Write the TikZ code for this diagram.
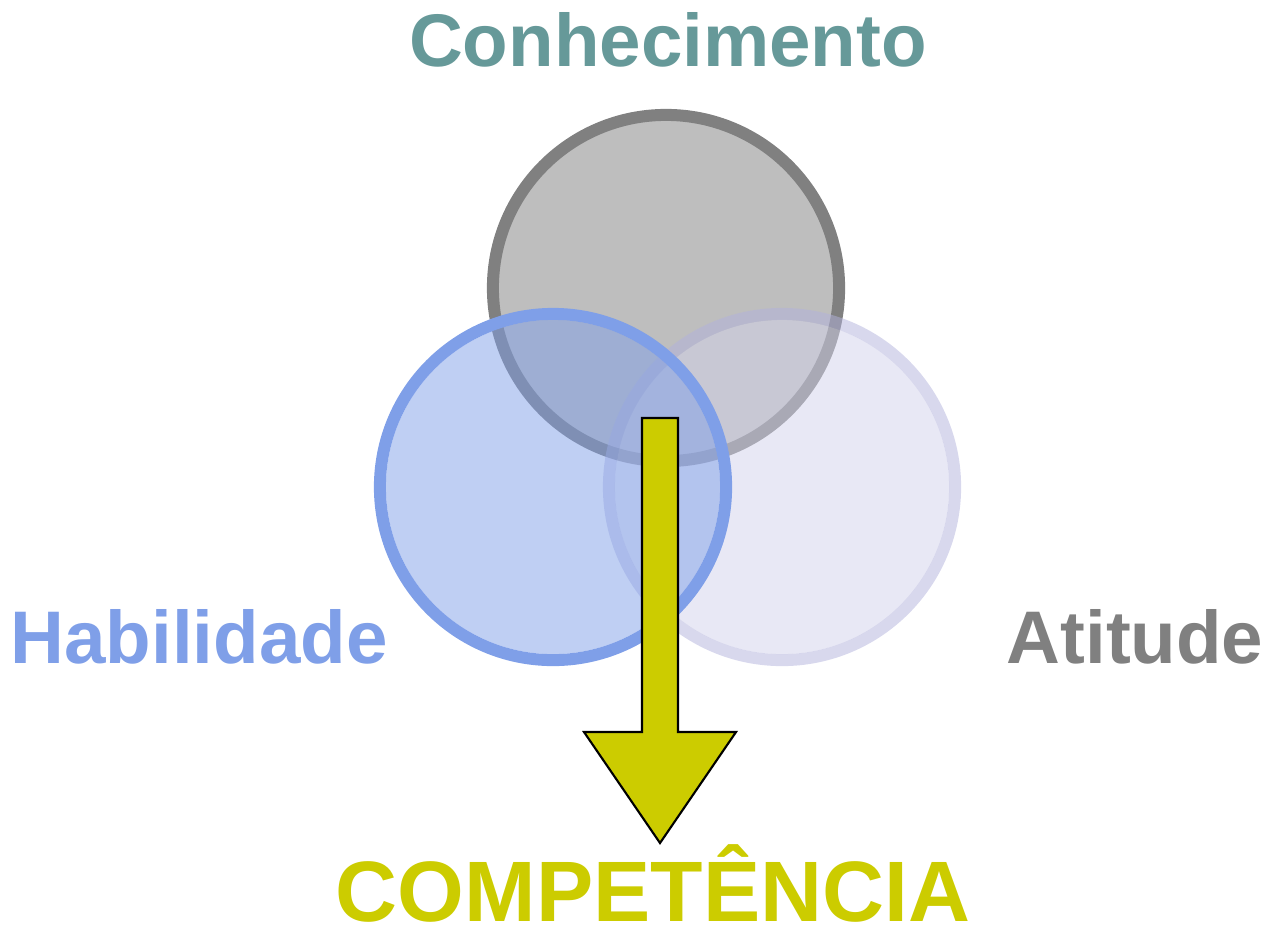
\documentclass[tikz,border=0pt]{standalone}
\usepackage{fontspec}
\setmainfont{Liberation Sans}
\usepackage{tikz}
\definecolor{conhecgray}{HTML}{BEBEBE}
\definecolor{conhecring}{HTML}{808080}
\definecolor{habilblue}{HTML}{7F9FE8}
\definecolor{atitfill}{HTML}{D2D2EB}
\definecolor{atitring}{HTML}{B2B2DC}
\definecolor{conhectext}{HTML}{669999}
\definecolor{atittext}{HTML}{808080}
\definecolor{competyellow}{HTML}{CCCC00}

\begin{document}
\begin{tikzpicture}[x=0.01cm,y=-0.01cm,
		venntext/.style={font=\bfseries\fontsize{21.2}{25}\selectfont,anchor=base,inner sep=0pt,text depth=0pt},
		ring/.style={line width=0.12cm}]
		\useasboundingbox (0,0) rectangle (1268,930);
		\coordinate (K) at (666,288);
		\coordinate (A) at (782,487);
		\coordinate (H) at (553,487);
		%
		% circles
		\draw[ring,draw=conhecring,fill=conhecgray] (K) circle[radius=1.73cm];
		\fill[atitfill,fill opacity=0.5] (A) circle[radius=1.67cm];
		\draw[ring,draw=atitring,draw opacity=0.5] (A) circle[radius=1.73cm];
		\fill[habilblue,fill opacity=0.5] (H) circle[radius=1.67cm];
		\draw[ring,draw=habilblue] (H) circle[radius=1.73cm];
		%
		% arrow
		\draw[line width=0.6pt,fill=competyellow,line join=miter]
		(642,418) -- (678,418) -- (678,732) -- (736,732) -- (660,843)
		-- (584,732) -- (642,732) -- cycle;
		%
		% labels
		\node[venntext,text=conhectext] (conhecimento) at (668,66) {Conhecimento};
		\node[venntext,text=habilblue] (habilidade) at (199,663) {Habilidade};
		\node[venntext,text=atittext] (atitude) at (1135,663) {Atitude};
		\node[venntext,text=competyellow,font=\bfseries\fontsize{24.4}{28}\selectfont] (competencia) at (653,921) {COMPETÊNCIA};
\end{tikzpicture}
\end{document}
